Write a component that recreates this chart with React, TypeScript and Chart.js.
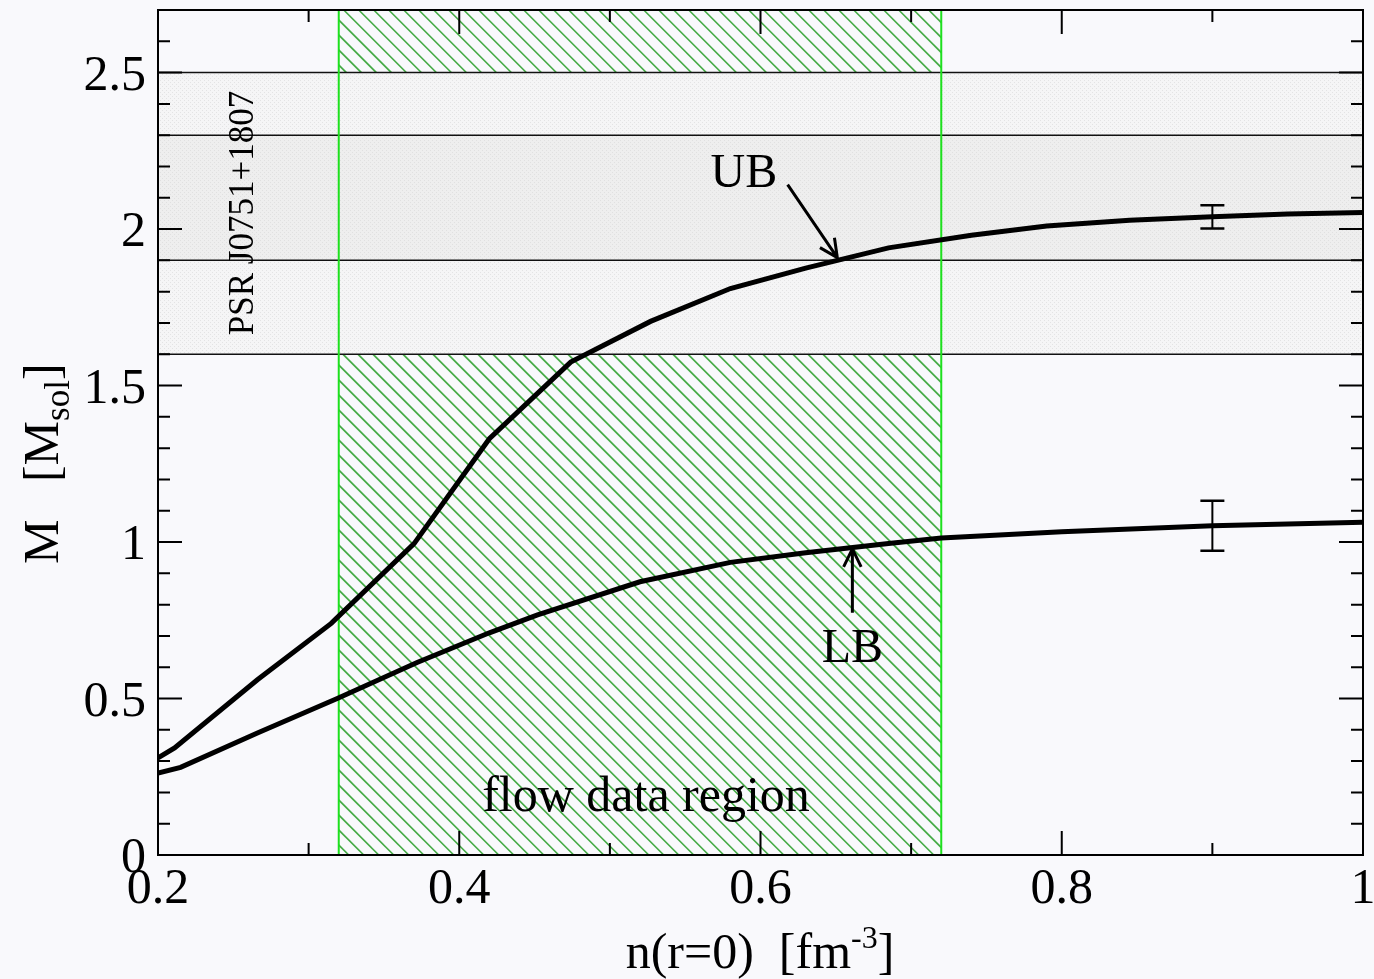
import React, { useEffect, useRef } from "react";
import { Chart, registerables } from "chart.js";

Chart.register(...registerables);

// Neutron-star maximum mass versus central density, upper (UB) and lower (LB) bound EoS
const ubDensity = [0.2, 0.211, 0.266, 0.315, 0.37, 0.42, 0.474, 0.527, 0.58, 0.63, 0.685, 0.74, 0.79, 0.845, 0.9, 0.95, 1.0];
const ubMass = [0.31, 0.342, 0.56, 0.74, 0.995, 1.33, 1.575, 1.705, 1.81, 1.875, 1.94, 1.98, 2.01, 2.028, 2.039, 2.048, 2.053];
const lbDensity = [0.2, 0.215, 0.266, 0.319, 0.372, 0.42, 0.452, 0.52, 0.58, 0.63, 0.685, 0.72, 0.8, 0.9, 1.0];
const lbMass = [0.262, 0.28, 0.39, 0.5, 0.615, 0.71, 0.767, 0.873, 0.935, 0.966, 0.995, 1.013, 1.033, 1.052, 1.063];

// error bars at the high-density end
const errDensity = [0.9, 0.9];
const errMass = [2.039, 1.052];
const errHalf = [0.037, 0.08];

// PSR J0751+1807 mass bands (outer, inner)
const bandLow = [1.6, 1.9];
const bandHigh = [2.5, 2.3];

// density range constrained by flow data
const flowRegion = [0.32, 0.72];

// tick labels
const xMajorTicks = [0.2, 0.4, 0.6, 0.8, 1.0];
const xTickLabels = ["0.2", "0.4", "0.6", "0.8", "1"];
const yMajorTicks = [0, 0.5, 1, 1.5, 2, 2.5];
const yTickLabels = ["0", "0.5", "1", "1.5", "2", "2.5"];

const FONT = '"Liberation Serif", "Times New Roman", serif';

type Part = { t: string; size: number; dy: number };

// draws a run of text pieces (for sub/superscripts); anchor is the centre or the start of the run
function drawParts(
  ctx: CanvasRenderingContext2D,
  parts: Part[],
  ax: number,
  base: number,
  rotate: boolean,
  fromStart = false
) {
  ctx.save();
  let total = 0;
  for (const p of parts) {
    ctx.font = `${p.size}px ${FONT}`;
    total += ctx.measureText(p.t).width;
  }
  ctx.translate(ax, base);
  if (rotate) ctx.rotate(-Math.PI / 2);
  ctx.textAlign = "left";
  ctx.textBaseline = "alphabetic";
  ctx.fillStyle = "#000";
  let x0 = fromStart ? 0 : -total / 2;
  for (const p of parts) {
    ctx.font = `${p.size}px ${FONT}`;
    ctx.fillText(p.t, x0, p.dy);
    x0 += ctx.measureText(p.t).width;
  }
  ctx.restore();
}

function makePattern(ctx: CanvasRenderingContext2D, base: string, dot: string) {
  const c = document.createElement("canvas");
  c.width = 4;
  c.height = 4;
  const g = c.getContext("2d")!;
  g.fillStyle = base;
  g.fillRect(0, 0, 4, 4);
  g.fillStyle = dot;
  g.fillRect(0, 0, 1, 1);
  g.fillRect(2, 2, 1, 1);
  return ctx.createPattern(c, "repeat")!;
}

function arrow(ctx: CanvasRenderingContext2D, x0: number, y0: number, x1: number, y1: number) {
  const ang = Math.atan2(y1 - y0, x1 - x0);
  const len = 20;
  const spread = (26 * Math.PI) / 180;
  ctx.beginPath();
  ctx.moveTo(x0, y0);
  ctx.lineTo(x1, y1);
  ctx.moveTo(x1 - len * Math.cos(ang - spread), y1 - len * Math.sin(ang - spread));
  ctx.lineTo(x1, y1);
  ctx.lineTo(x1 - len * Math.cos(ang + spread), y1 - len * Math.sin(ang + spread));
  ctx.stroke();
}

const decorPlugin = {
  id: "decor",
  beforeDatasetsDraw(chart: any) {
    const { ctx, chartArea: a, scales } = chart;
    const x = scales.x;
    const y = scales.y;
    const fx0 = x.getPixelForValue(flowRegion[0]);
    const fx1 = x.getPixelForValue(flowRegion[1]);

    // hatched flow-data region
    ctx.save();
    ctx.beginPath();
    ctx.rect(fx0, a.top, fx1 - fx0, a.bottom - a.top);
    ctx.clip();
    ctx.strokeStyle = "#45ab45";
    ctx.lineWidth = 1.6;
    const h = a.bottom - a.top;
    for (let sx = fx0 - h - 20; sx < fx1 + 20; sx += 15) {
      ctx.beginPath();
      ctx.moveTo(sx, a.top);
      ctx.lineTo(sx + h, a.bottom);
      ctx.stroke();
    }
    ctx.restore();

    // mass bands
    ctx.save();
    const fills = [makePattern(ctx, "#f5f5f6", "#e3e3e4"), makePattern(ctx, "#eeeeee", "#e0e0e0")];
    for (let i = 0; i < bandLow.length; i++) {
      const yt = y.getPixelForValue(bandHigh[i]);
      const yb = y.getPixelForValue(bandLow[i]);
      ctx.fillStyle = fills[i];
      ctx.fillRect(a.left, yt, a.right - a.left, yb - yt);
    }
    ctx.strokeStyle = "#111";
    ctx.lineWidth = 1.5;
    for (const v of [...bandLow, ...bandHigh]) {
      const py = y.getPixelForValue(v);
      ctx.beginPath();
      ctx.moveTo(a.left, py);
      ctx.lineTo(a.right, py);
      ctx.stroke();
    }
    // region borders
    ctx.strokeStyle = "#1ee01e";
    ctx.lineWidth = 2;
    for (const px of [fx0, fx1]) {
      ctx.beginPath();
      ctx.moveTo(px, a.top);
      ctx.lineTo(px, a.bottom);
      ctx.stroke();
    }
    ctx.restore();
  },
  afterDatasetsDraw(chart: any) {
    const { ctx, chartArea: a, scales } = chart;
    const x = scales.x;
    const y = scales.y;
    ctx.save();

    // error bars
    ctx.strokeStyle = "#000";
    for (let i = 0; i < errDensity.length; i++) {
      const px = x.getPixelForValue(errDensity[i]);
      const pt = y.getPixelForValue(errMass[i] + errHalf[i]);
      const pb = y.getPixelForValue(errMass[i] - errHalf[i]);
      ctx.lineWidth = 2;
      ctx.beginPath();
      ctx.moveTo(px, pt);
      ctx.lineTo(px, pb);
      ctx.stroke();
      ctx.lineWidth = 2.5;
      ctx.beginPath();
      ctx.moveTo(px - 12, pt);
      ctx.lineTo(px + 12, pt);
      ctx.moveTo(px - 12, pb);
      ctx.lineTo(px + 12, pb);
      ctx.stroke();
    }

    // annotation arrows
    ctx.lineWidth = 3;
    ctx.lineCap = "butt";
    arrow(ctx, x.getPixelForValue(0.618), y.getPixelForValue(2.142), x.getPixelForValue(0.651), y.getPixelForValue(1.909));
    arrow(ctx, x.getPixelForValue(0.661), y.getPixelForValue(0.774), x.getPixelForValue(0.661), y.getPixelForValue(0.978));

    // annotation texts
    ctx.fillStyle = "#000";
    ctx.textAlign = "center";
    ctx.textBaseline = "alphabetic";
    ctx.font = `48px ${FONT}`;
    ctx.fillText("UB", x.getPixelForValue(0.589), y.getPixelForValue(2.135));
    ctx.fillText("LB", x.getPixelForValue(0.661), y.getPixelForValue(0.617));
    ctx.font = `50px ${FONT}`;
    ctx.fillText("flow data region", x.getPixelForValue(0.524), y.getPixelForValue(0.14));
    drawParts(ctx, [{ t: "PSR J0751+1807", size: 35, dy: 0 }], 253, 213, true);

    // frame
    ctx.strokeStyle = "#000";
    ctx.lineWidth = 2;
    ctx.strokeRect(a.left, a.top, a.right - a.left, a.bottom - a.top);

    // inward ticks on all four sides
    const isMajor = (v: number, list: number[]) => list.some((m) => Math.abs(m - v) < 1e-6);
    for (const t of x.ticks) {
      const px = x.getPixelForValue(t.value);
      const len = isMajor(t.value, xMajorTicks) ? 24 : 12;
      ctx.beginPath();
      ctx.moveTo(px, a.bottom);
      ctx.lineTo(px, a.bottom - len);
      ctx.moveTo(px, a.top);
      ctx.lineTo(px, a.top + len);
      ctx.stroke();
    }
    for (const t of y.ticks) {
      const py = y.getPixelForValue(t.value);
      const len = isMajor(t.value, yMajorTicks) ? 24 : 12;
      ctx.beginPath();
      ctx.moveTo(a.left, py);
      ctx.lineTo(a.left + len, py);
      ctx.moveTo(a.right, py);
      ctx.lineTo(a.right - len, py);
      ctx.stroke();
    }

    // tick labels
    ctx.font = `50px ${FONT}`;
    ctx.textAlign = "center";
    xMajorTicks.forEach((v, i) => {
      ctx.fillText(xTickLabels[i], x.getPixelForValue(v), a.bottom + 48);
    });
    ctx.textAlign = "right";
    yMajorTicks.forEach((v, i) => {
      ctx.fillText(yTickLabels[i], a.left - 12, y.getPixelForValue(v) + 17);
    });

    // axis titles
    drawParts(
      ctx,
      [
        { t: "n(r=0)  [fm", size: 50, dy: 0 },
        { t: "-3", size: 32, dy: -20 },
        { t: "]", size: 50, dy: 0 },
      ],
      760,
      968,
      false
    );
    drawParts(
      ctx,
      [
        { t: "M   [M", size: 50, dy: 0 },
        { t: "sol", size: 35, dy: 11 },
        { t: "]", size: 50, dy: 0 },
      ],
      58,
      564,
      true,
      true
    );
    ctx.restore();
  },
};

export default function App() {
  const canvasRef = useRef<HTMLCanvasElement | null>(null);

  useEffect(() => {
    const canvas = canvasRef.current;
    if (!canvas) return;
    const toPoints = (xs: number[], ys: number[]) => xs.map((v, i) => ({ x: v, y: ys[i] }));
    const chart = new Chart(canvas, {
      type: "scatter",
      data: {
        datasets: [
          {
            label: "UB",
            data: toPoints(ubDensity, ubMass),
            showLine: true,
            borderColor: "#000",
            borderWidth: 5,
            pointRadius: 0,
            tension: 0,
          },
          {
            label: "LB",
            data: toPoints(lbDensity, lbMass),
            showLine: true,
            borderColor: "#000",
            borderWidth: 5,
            pointRadius: 0,
            tension: 0,
          },
        ],
      },
      options: {
        responsive: false,
        animation: false,
        devicePixelRatio: 1,
        layout: { padding: { left: 158, right: 11, top: 10, bottom: 124 } },
        plugins: { legend: { display: false }, tooltip: { enabled: false } },
        scales: {
          x: {
            type: "linear",
            min: 0.2,
            max: 1.0,
            ticks: { stepSize: 0.1, display: false },
            grid: { display: false, drawTicks: false },
            border: { display: false },
          },
          y: {
            type: "linear",
            min: 0,
            max: 2.7,
            ticks: { stepSize: 0.1, display: false },
            grid: { display: false, drawTicks: false },
            border: { display: false },
          },
        },
      },
      plugins: [decorPlugin],
    });
    return () => chart.destroy();
  }, []);

  return (
    <div style={{ position: "fixed", left: 0, top: 0, width: 1374, height: 979, background: "#f9f9fc" }}>
      <canvas ref={canvasRef} width={1374} height={979} style={{ display: "block" }} />
    </div>
  );
}
